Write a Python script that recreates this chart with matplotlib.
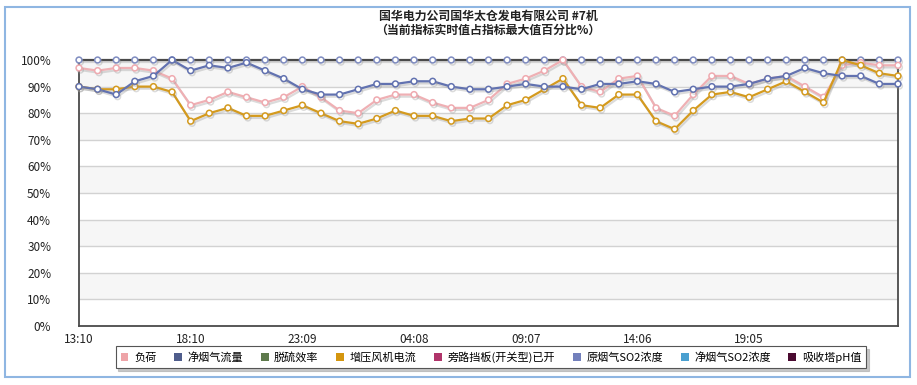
import matplotlib
matplotlib.use("Agg")
import matplotlib.pyplot as plt
import matplotlib.patheffects as pe
from matplotlib.patches import Patch, Rectangle
import numpy as np

plt.rcParams['font.family'] = ['Noto Sans CJK SC', 'DejaVu Sans']

# 45 samples, one label every 6th sample
tick_labels = ["13:10", "18:10", "23:09", "04:08", "09:07", "14:06", "19:05"]

load = [97, 96, 97, 97, 96, 93, 83, 85, 88, 86, 84, 86, 90, 86, 81,
        80, 85, 87, 87, 84, 82, 82, 85, 91, 93, 96, 100, 90, 88, 93,
        94, 82, 79, 87, 94, 94, 91, 93, 94, 90, 86, 98, 99, 98, 98]
flue_flow = [90, 89, 87, 92, 94, 100, 96, 98, 97, 99, 96, 93, 89, 87, 87,
             89, 91, 91, 92, 92, 90, 89, 89, 90, 91, 90, 90, 89, 91, 91,
             92, 91, 88, 89, 90, 90, 91, 93, 94, 97, 95, 94, 94, 91, 91]
fan_current = [90, 89, 89, 90, 90, 88, 77, 80, 82, 79, 79, 81, 83, 80, 77,
               76, 78, 81, 79, 79, 77, 78, 78, 83, 85, 89, 93, 83, 82, 87,
               87, 77, 74, 81, 87, 88, 86, 89, 92, 88, 84, 100, 98, 95, 94]
raw_so2 = [100] * 45

legend_names = ["负荷", "净烟气流量", "脱硫效率", "增压风机电流",
                "旁路挡板(开关型)已开", "原烟气SO2浓度", "净烟气SO2浓度", "吸收塔pH值"]
legend_colors = ["#eea4a8", "#4f5d8c", "#5e7a4c", "#d4960f",
                 "#b0346a", "#7380bc", "#4aa0d0", "#4a0a30"]

x = np.arange(len(load))

fig = plt.figure(figsize=(9.17, 3.85), dpi=100)
ax = fig.add_axes([79/917, 1-326/385, 819/917, 266/385])

# alternating bands and grid
for lo in range(10, 100, 20):
    ax.axhspan(lo, lo + 10, color="#f6f6f6", zorder=0, lw=0)
for yv in range(10, 100, 10):
    ax.axhline(yv, color="#d2d2d2", lw=1, zorder=1)

shadow = [pe.SimpleLineShadow(offset=(1, -1.5), shadow_color="#999999", alpha=0.35), pe.Normal()]

def draw(vals, line_c, mark_c, z):
    ax.plot(x, vals, color=line_c, lw=1.6, marker="o", ms=4.2,
            mfc="white", mec=mark_c, mew=1.1, zorder=z, clip_on=False,
            path_effects=shadow)

draw(raw_so2, "#4a4a4a", "#7f8cc0", 3)
draw(load, "#efb0b4", "#efaab0", 4)
draw(fan_current, "#d49a1e", "#d49a1e", 5)
draw(flue_flow, "#6272b0", "#6272b0", 6)

ax.set_xlim(0, 44)
ax.set_ylim(0, 100)
ax.set_xticks(np.arange(0, 6 * len(tick_labels), 6))
ax.set_xticklabels(tick_labels)
ax.set_yticks(np.arange(0, 101, 10))
ax.set_yticklabels([f"{v}%" for v in range(0, 101, 10)])
ax.tick_params(length=0, labelsize=8.5, colors="#222222")
ax.tick_params(axis="y", pad=20)
ax.tick_params(axis="x", pad=5)
for s in ax.spines.values():
    s.set_color("#4a4a4a")
    s.set_linewidth(1.3)
    s.set_zorder(2.5)

fig.text(488/917, 1-16/385, "国华电力公司国华太仓发电有限公司 #7机", ha="center", va="center",
         fontsize=8.6, fontweight="bold", color="#222222")
fig.text(488/917, 1-30/385, "（当前指标实时值占指标最大值百分比%）", ha="center", va="center",
         fontsize=8.6, fontweight="bold", color="#222222")

handles = [Patch(facecolor=c, edgecolor="none") for c in legend_colors]
leg = fig.legend(handles, legend_names, loc="center", bbox_to_anchor=(491/917, 1-357/385),
                 ncol=8, fontsize=8, frameon=True, fancybox=False,
                 shadow={"color": "#b0b0b0", "alpha": 0.7},
                 handlelength=0.7, handleheight=0.7, handletextpad=0.5,
                 columnspacing=1.6, borderpad=0.45)
leg.get_frame().set_edgecolor("#555555")
leg.get_frame().set_linewidth(0.8)

# outer light-blue frame
fig.patches.append(Rectangle((5/917, 1-377/385), 905/917, 370/385, transform=fig.transFigure,
                             fill=False, edgecolor="#8fb6e2", lw=1.5))

fig.savefig("out.png", dpi=100)
